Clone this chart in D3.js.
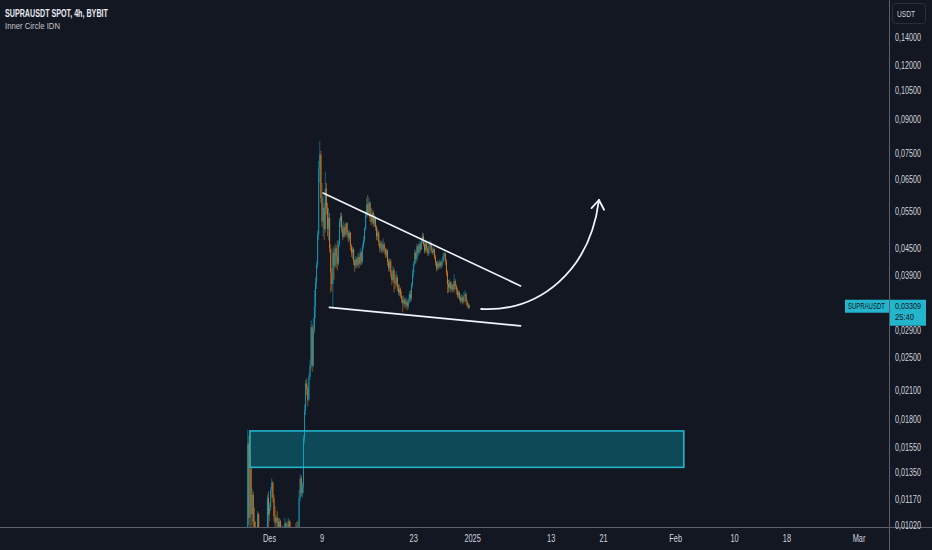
<!DOCTYPE html>
<html>
<head>
<meta charset="utf-8">
<script src="https://cdn.jsdelivr.net/npm/d3@7"></script>
<style>
  html, body { margin: 0; padding: 0; background: #131722; }
  svg { display: block; }
  text { font-family: "Liberation Sans", Arial, sans-serif; }
</style>
</head>
<body>
<div id="chart"></div>
<script>
// SUPRAUSDT 4h candles, first bar at 2024-11-27 16:00 UTC
// prices are in 1/10000 USDT (331 = 0.0331), open = previous close
var firstBar = Date.UTC(2024, 10, 27, 16);
var firstOpen = 95;
var closes = [158,106,138,108,120,104,100,96,95,108,96,93,90,92,89,91,94,97,118,108,
  112,123,128,118,107,103,106,104,101,104,100,98,99,96,103,99,101,104,100,98,
  97,99,96,98,101,99,97,118,131,121,125,162,188,218,212,200,226,240,295,240,
  290,330,375,412,485,690,745,590,520,560,500,620,560,500,530,450,395,372,440,410,
  450,430,415,460,520,535,500,480,505,485,515,490,475,490,455,440,448,420,410,425,
  412,430,415,440,420,455,470,500,540,570,545,575,530,520,545,515,530,505,480,490,
  465,450,462,445,460,448,435,445,418,405,420,395,380,400,375,372,385,365,355,362,
  350,342,335,342,333,338,330,340,352,345,370,395,415,440,425,455,440,460,448,470,
  480,460,445,462,448,438,455,462,445,440,448,430,418,405,415,408,418,410,420,432,
  438,420,395,372,365,375,362,370,360,378,368,360,350,355,345,340,346,338,348,352,
  338,332,328,331];
var highs = [170,165,145,140,124,122,112,104,99,110,109,98,95,94,93,94,96,99,120,122,
  115,125,131,129,120,113,108,110,106,106,105,101,102,100,106,104,103,106,105,104,
  100,101,100,100,103,104,104,123,134,133,128,165,195,222,224,215,230,248,306,300,
  310,360,385,420,495,720,800,760,640,600,575,680,640,575,560,545,460,405,450,455,
  462,458,470,470,530,545,545,510,520,512,518,518,495,498,492,460,455,452,425,432,
  430,440,435,450,445,462,480,505,550,590,600,590,580,560,555,550,540,535,510,500,
  495,470,470,468,475,465,452,450,448,425,428,425,400,410,405,392,398,390,372,370,
  365,358,348,350,345,346,342,345,358,360,375,402,420,448,445,462,460,468,465,478,
  490,488,468,470,466,452,462,470,465,452,455,450,435,422,422,420,425,422,428,440,
  442,440,425,400,380,382,378,375,372,392,382,372,365,360,358,350,352,350,356,360,
  355,342,336,334];
var lows = [90,102,100,98,102,98,95,92,92,94,92,88,87,88,86,87,89,92,95,100,
  104,110,118,115,104,100,101,99,97,98,96,94,95,93,94,96,97,99,97,95,
  94,95,93,94,96,97,95,95,116,119,118,121,158,184,205,193,198,222,236,232,
  238,285,310,362,405,470,640,575,505,480,470,490,540,480,470,440,355,358,328,380,
  405,405,400,410,455,505,490,470,475,478,480,482,465,468,445,430,425,412,397,404,
  405,408,405,410,412,415,448,462,495,530,535,540,520,510,512,505,505,495,470,470,
  455,440,442,438,440,440,428,428,410,398,398,385,370,375,355,362,368,358,350,348,
  345,336,320,330,326,327,323,325,335,338,340,365,385,410,415,420,432,435,440,445,
  462,455,438,440,440,432,434,450,440,435,436,425,410,398,400,402,404,404,406,416,
  425,412,388,354,355,358,355,356,355,356,362,352,345,344,340,335,336,333,335,340,
  332,328,325,326];
var priceUnit = 0.0001;

// right price scale (log) and bottom time scale
var priceTicks = [0.14, 0.12, 0.105, 0.09, 0.075, 0.065, 0.055, 0.045, 0.039, 0.029,
  0.025, 0.021, 0.018, 0.0155, 0.0135, 0.0117, 0.0102];
var timeTicks = [Date.UTC(2024,11,1), Date.UTC(2024,11,9), Date.UTC(2024,11,23), Date.UTC(2025,0,1),
  Date.UTC(2025,0,13), Date.UTC(2025,0,21), Date.UTC(2025,1,1), Date.UTC(2025,1,10),
  Date.UTC(2025,1,18), Date.UTC(2025,2,1)];
var timeLabels = ["Des", "9", "23", "2025", "13", "21", "Feb", "10", "18", "Mar"];

// drawings
var zoneTime = [Date.UTC(2024,10,28,0), Date.UTC(2025,1,2,6)];
var zonePrice = [0.0169, 0.0139];
var upperLine = [[Date.UTC(2024,11,9,4), 0.0606], [Date.UTC(2025,0,8,8), 0.0368]];
var lowerLine = [[Date.UTC(2024,11,10,3), 0.0328], [Date.UTC(2025,0,8,8), 0.0297]];
var arrowCurve = [[Date.UTC(2025,0,2,7), 0.03252], [Date.UTC(2025,0,11,7), 0.03199],
  [Date.UTC(2025,0,18,22), 0.03997], [Date.UTC(2025,0,20,7), 0.05837]];

var lastPrice = 0.03309;
var countdown = "25:40";
var symbol = "SUPRAUSDT";

var W = 932, H = 550;
var plotRight = 889, plotBottom = 527;
var upColor = "#1496b0", downColor = "#cf761c", cyan = "#22b5cc";

// the chart uses a narrow UI font: squash the text sideways around its anchor
function squeeze(sel, k) {
    sel.each(function() {
        var t = d3.select(this);
        var tx = +t.attr("x"), ty = +t.attr("y");
        t.attr("x", 0).attr("y", 0)
         .attr("transform", "translate(" + tx + "," + ty + ") scale(" + k + ",1)");
    });
}
function fitTo(sel, w) {
    sel.each(function() {
        d3.select(this).call(squeeze, w / this.getComputedTextLength());
    });
}

var svg = d3.select("#chart").append("svg")
    .attr("width", W).attr("height", H);

svg.append("rect").attr("width", W).attr("height", H).attr("fill", "#131722");

var x = d3.scaleUtc()
    .domain([Date.UTC(2024,11,1), Date.UTC(2025,2,1)])
    .range([269.6, 859]);
var y = d3.scaleLog()
    .domain([0.0102, 0.14])
    .range([525, 37]);

svg.append("clipPath").attr("id", "plot-clip")
  .append("rect").attr("width", plotRight).attr("height", plotBottom);

var plot = svg.append("g").attr("clip-path", "url(#plot-clip)");

// candles
var bars = closes.map(function(c, i) {
    var o = i == 0 ? firstOpen : closes[i - 1];
    return {
        t: firstBar + i * 4 * 3600 * 1000,
        o: o * priceUnit,
        c: c * priceUnit,
        h: Math.max(highs[i], o, c) * priceUnit,
        l: Math.min(lows[i], o, c) * priceUnit
    };
});
var barW = x(firstBar + 4 * 3600 * 1000) - x(firstBar);

var candle = plot.append("g").selectAll("g")
    .data(bars)
    .enter().append("g");
candle.append("rect")
    .attr("x", function(d) { return x(d.t) - 0.4; })
    .attr("width", 0.8)
    .attr("y", function(d) { return y(d.h); })
    .attr("height", function(d) { return Math.max(0.5, y(d.l) - y(d.h)); })
    .attr("fill", function(d) { return d.c >= d.o ? upColor : downColor; })
    .attr("opacity", 0.75);
candle.append("rect")
    .attr("x", function(d) { return x(d.t) - barW * 0.45; })
    .attr("width", barW * 0.9)
    .attr("y", function(d) { return y(Math.max(d.o, d.c)); })
    .attr("height", function(d) { return Math.max(0.8, Math.abs(y(d.o) - y(d.c))); })
    .attr("fill", function(d) { return d.c >= d.o ? upColor : downColor; });

// demand zone
plot.append("rect")
    .attr("x", x(zoneTime[0]))
    .attr("y", y(zonePrice[0]))
    .attr("width", x(zoneTime[1]) - x(zoneTime[0]))
    .attr("height", y(zonePrice[1]) - y(zonePrice[0]))
    .attr("fill", "rgba(0,188,212,0.3)")
    .attr("stroke", cyan)
    .attr("stroke-width", 1.6);

// wedge lines
var line = d3.line()
    .x(function(d) { return x(d[0]); })
    .y(function(d) { return y(d[1]); });
[upperLine, lowerLine].forEach(function(pts) {
    plot.append("path")
        .attr("d", line(pts))
        .attr("fill", "none")
        .attr("stroke", "#f0f3fa")
        .attr("stroke-width", 1.6)
        .attr("stroke-linecap", "round");
});

// projected move arrow
var p = arrowCurve.map(function(d) { return [x(d[0]), y(d[1])]; });
var curve = d3.path();
curve.moveTo(p[0][0], p[0][1]);
curve.bezierCurveTo(p[1][0], p[1][1], p[2][0], p[2][1], p[3][0], p[3][1]);
plot.append("path")
    .attr("d", curve.toString())
    .attr("fill", "none")
    .attr("stroke", "#f0f3fa")
    .attr("stroke-width", 1.8)
    .attr("stroke-linecap", "round");

var dx = p[2][0] - p[3][0], dy = p[2][1] - p[3][1];
var len = Math.sqrt(dx * dx + dy * dy);
dx /= len; dy /= len;
var head = d3.path();
[35, -35].forEach(function(deg) {
    var a = deg * Math.PI / 180;
    var ex = dx * Math.cos(a) - dy * Math.sin(a), ey = dx * Math.sin(a) + dy * Math.cos(a);
    head.moveTo(p[3][0], p[3][1]);
    head.lineTo(p[3][0] + ex * 11, p[3][1] + ey * 11);
});
plot.append("path")
    .attr("d", head.toString())
    .attr("fill", "none")
    .attr("stroke", "#f0f3fa")
    .attr("stroke-width", 1.8)
    .attr("stroke-linecap", "round")
    .attr("stroke-linejoin", "round");

// scale borders
svg.append("line")
    .attr("x1", plotRight + 0.5).attr("x2", plotRight + 0.5)
    .attr("y1", 0).attr("y2", H)
    .attr("stroke", "#5d606b");
svg.append("line")
    .attr("x1", 0).attr("x2", W)
    .attr("y1", plotBottom + 0.5).attr("y2", plotBottom + 0.5)
    .attr("stroke", "#5d606b");

var fmt = d3.format(".5f");
svg.append("g").selectAll("text")
    .data(priceTicks)
    .enter().append("text")
    .attr("x", 895)
    .attr("y", function(d) { return y(d); })
    .attr("dy", "0.35em")
    .attr("fill", "#d1d4dc")
    .style("font-size", "10px")
    .text(function(d) { return fmt(d).replace(".", ","); })
    .call(fitTo, 26);

svg.append("g").selectAll("text")
    .data(timeTicks)
    .enter().append("text")
    .attr("x", function(d) { return x(d); })
    .attr("y", 542)
    .attr("text-anchor", "middle")
    .attr("fill", "#d1d4dc")
    .style("font-size", "10px")
    .text(function(d, i) { return timeLabels[i]; })
    .call(squeeze, 0.74);

// currency button
svg.append("rect")
    .attr("x", 892.5).attr("y", 3.5).attr("width", 33).attr("height", 20).attr("rx", 3)
    .attr("fill", "#131722").attr("stroke", "#2a2e39");
svg.append("text")
    .attr("x", 897).attr("y", 17)
    .attr("fill", "#d1d4dc")
    .style("font-size", "9.5px")
    .text("USDT")
    .call(fitTo, 18);

// last price labels
var ly = y(lastPrice);
svg.append("rect")
    .attr("x", 845).attr("y", ly - 6).attr("width", 44).attr("height", 13)
    .attr("fill", cyan);
svg.append("text")
    .attr("x", 848).attr("y", ly + 0.5).attr("dy", "0.35em")
    .attr("fill", "#131722")
    .style("font-size", "9px")
    .text(symbol)
    .call(fitTo, 37);
svg.append("rect")
    .attr("x", 890).attr("y", ly - 6).attr("width", 36).attr("height", 26)
    .attr("fill", cyan);
svg.append("text")
    .attr("x", 895).attr("y", ly).attr("dy", "0.35em")
    .attr("fill", "#131722")
    .style("font-size", "9px")
    .text(fmt(lastPrice).replace(".", ","))
    .call(fitTo, 26);
svg.append("text")
    .attr("x", 895).attr("y", ly + 11.5).attr("dy", "0.35em")
    .attr("fill", "#131722")
    .style("font-size", "9px")
    .text(countdown)
    .call(fitTo, 19);

// legend
svg.append("text")
    .attr("x", 5).attr("y", 17)
    .attr("fill", "#e8eaf0")
    .style("font-size", "10px")
    .style("font-weight", "bold")
    .text("SUPRAUSDT SPOT, 4h, BYBIT")
    .call(fitTo, 103);
svg.append("text")
    .attr("x", 5).attr("y", 29)
    .attr("fill", "#c3c6ce")
    .style("font-size", "9.5px")
    .text("Inner Circle IDN")
    .call(fitTo, 55);
</script>
</body>
</html>
